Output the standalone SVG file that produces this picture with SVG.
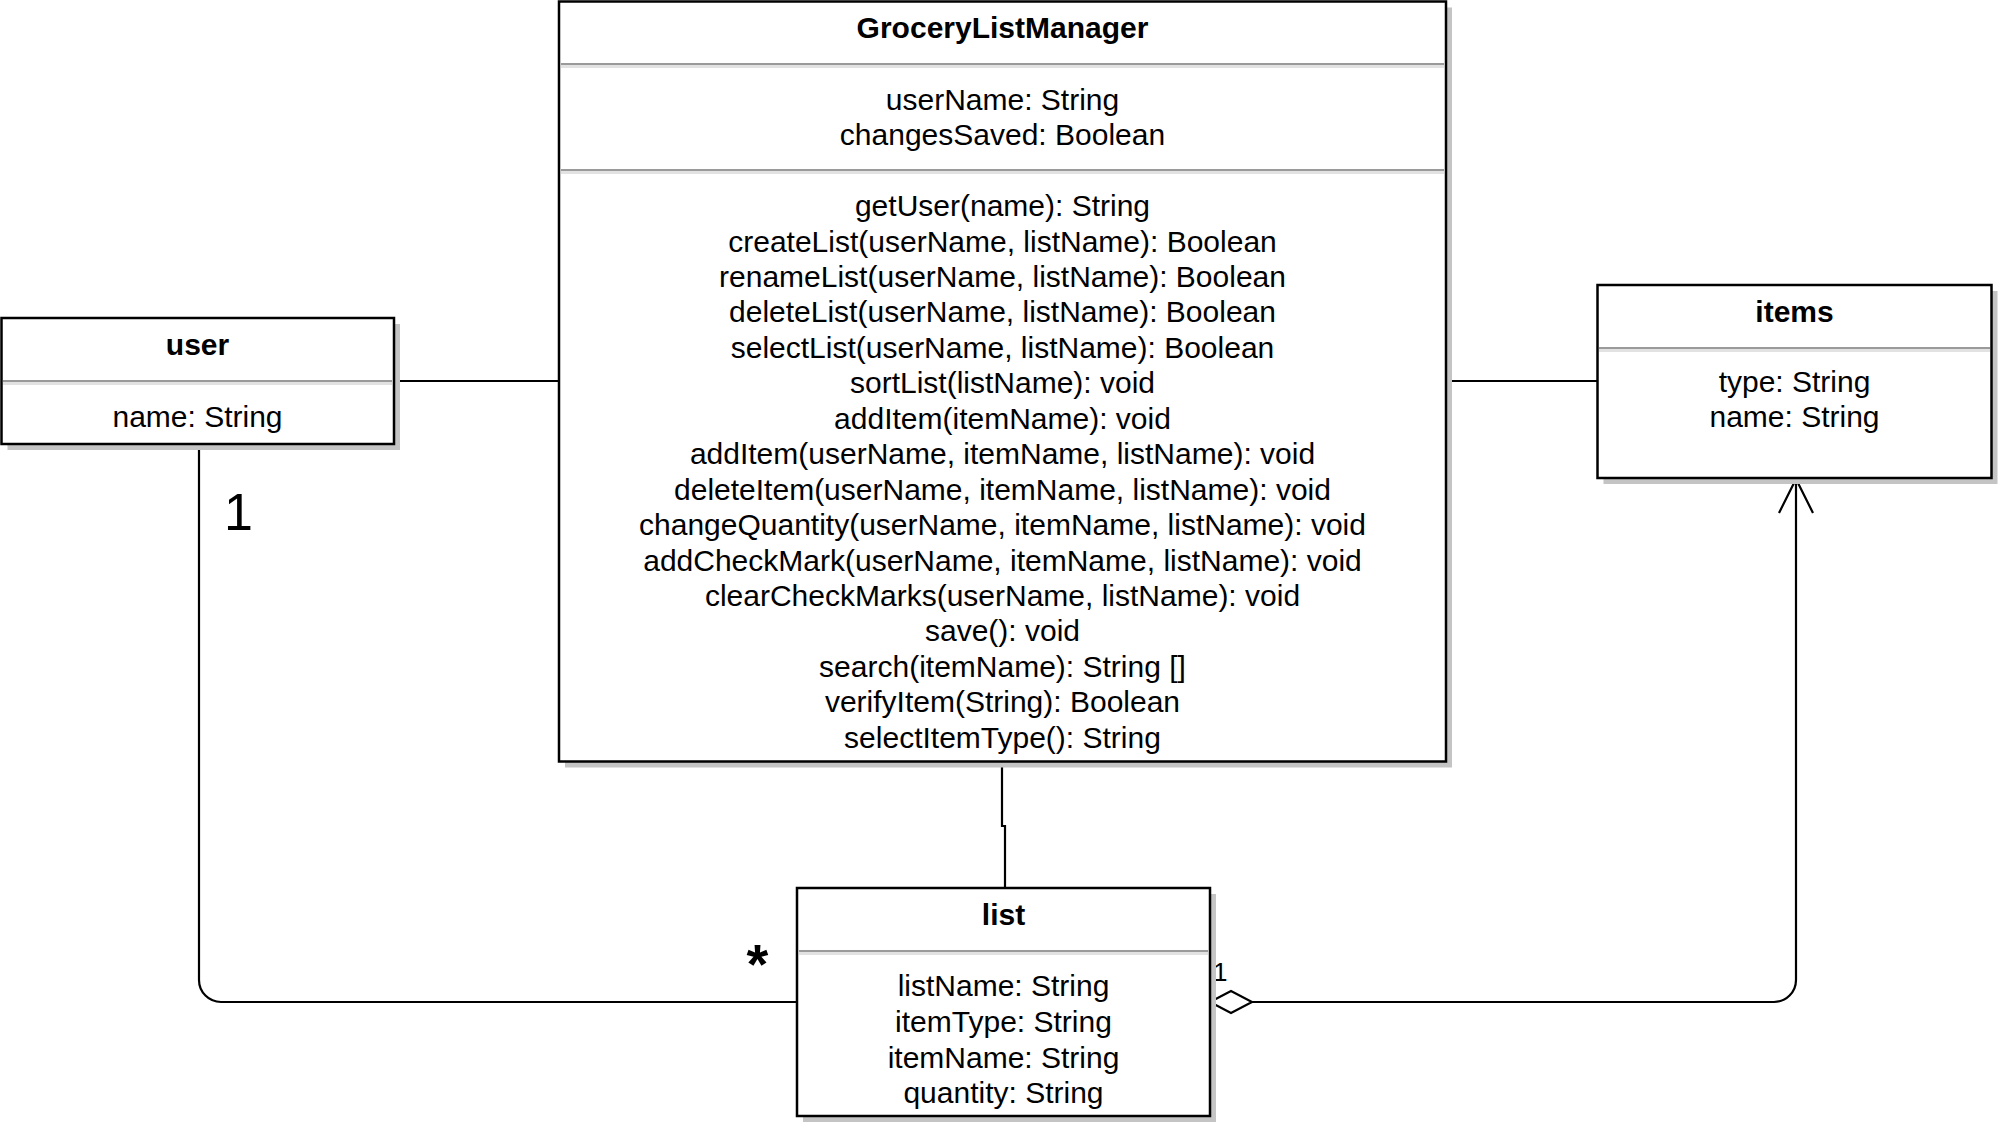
<svg xmlns="http://www.w3.org/2000/svg" width="2000" height="1128" viewBox="0 0 2000 1128">
  <style>
    text { font-family: "Liberation Sans", Arial, Helvetica, sans-serif; fill: #000; }
    .t { font-size: 30px; text-anchor: middle; }
    .b { font-size: 30px; font-weight: bold; text-anchor: middle; }
    .box { fill: #ffffff; stroke: #000; stroke-width: 2.5; }
    .shadow { fill: #c4c4c4; }
    .div { stroke: #9a9a9a; stroke-width: 2; }
    .divs { stroke: #e2e2e2; stroke-width: 3; }
    .edge { fill: none; stroke: #000; stroke-width: 2.2; }
  </style>
  <rect width="2000" height="1128" fill="#ffffff"/>

  <g id="connectors">
    <path class="edge" d="M394,381 H559"/>
    <path class="edge" d="M1446,381 H1597.5"/>
    <path class="edge" d="M1002,762 V826 H1005 V888"/>
    <path class="edge" d="M199,444 V980 A22,22 0 0 0 221,1002 H797"/>
    <path class="edge" d="M1252,1002 H1774 A22,22 0 0 0 1796,980 V479"/>
    <polygon points="1210,1002 1231,991 1252,1002 1231,1013" fill="#ffffff" stroke="#000" stroke-width="2.2"/>
    <polyline points="1779,513 1796,479 1813,513" fill="none" stroke="#000" stroke-width="2.2"/>
    <text x="224" y="530" style="font-size:52px">1</text>
    <text x="757.5" y="983" style="font-size:56px;font-weight:bold;text-anchor:middle">*</text>
    <text x="1213" y="981" style="font-size:26px">1</text>
  </g>

  <g id="user">
    <rect class="shadow" x="7.5" y="324" width="392.5" height="126"/>
    <rect class="box" x="1.5" y="318" width="392.5" height="126"/>
    <line class="divs" x1="3" y1="383.5" x2="392" y2="383.5"/>
    <line class="div" x1="3" y1="381" x2="392" y2="381"/>
    <text class="b" x="197.5" y="355">user</text>
    <text class="t" x="197.5" y="427">name: String</text>
  </g>

  <g id="GroceryListManager">
    <rect class="shadow" x="565" y="7.5" width="887" height="760"/>
    <rect class="box" x="559" y="1.5" width="887" height="760"/>
    <line class="divs" x1="561" y1="66.5" x2="1444" y2="66.5"/>
    <line class="div" x1="561" y1="64" x2="1444" y2="64"/>
    <line class="divs" x1="561" y1="172.5" x2="1444" y2="172.5"/>
    <line class="div" x1="561" y1="170" x2="1444" y2="170"/>
    <text class="b" x="1002.5" y="38">GroceryListManager</text>
    <text class="t" x="1002.5" y="110">userName: String</text>
    <text class="t" x="1002.5" y="145">changesSaved: Boolean</text>
    <text class="t" x="1002.5" y="216">getUser(name): String</text>
    <text class="t" x="1002.5" y="251.5">createList(userName, listName): Boolean</text>
    <text class="t" x="1002.5" y="287">renameList(userName, listName): Boolean</text>
    <text class="t" x="1002.5" y="322.4">deleteList(userName, listName): Boolean</text>
    <text class="t" x="1002.5" y="357.8">selectList(userName, listName): Boolean</text>
    <text class="t" x="1002.5" y="393.3">sortList(listName): void</text>
    <text class="t" x="1002.5" y="428.7">addItem(itemName): void</text>
    <text class="t" x="1002.5" y="464.2">addItem(userName, itemName, listName): void</text>
    <text class="t" x="1002.5" y="499.6">deleteItem(userName, itemName, listName): void</text>
    <text class="t" x="1002.5" y="535">changeQuantity(userName, itemName, listName): void</text>
    <text class="t" x="1002.5" y="570.5">addCheckMark(userName, itemName, listName): void</text>
    <text class="t" x="1002.5" y="606">clearCheckMarks(userName, listName): void</text>
    <text class="t" x="1002.5" y="641.4">save(): void</text>
    <text class="t" x="1002.5" y="676.8">search(itemName): String []</text>
    <text class="t" x="1002.5" y="712.3">verifyItem(String): Boolean</text>
    <text class="t" x="1002.5" y="747.7">selectItemType(): String</text>
  </g>

  <g id="items">
    <rect class="shadow" x="1603.5" y="291" width="394" height="193"/>
    <rect class="box" x="1597.5" y="285" width="394" height="193"/>
    <line class="divs" x1="1599" y1="350.5" x2="1990" y2="350.5"/>
    <line class="div" x1="1599" y1="348" x2="1990" y2="348"/>
    <text class="b" x="1794.5" y="322">items</text>
    <text class="t" x="1794.5" y="392">type: String</text>
    <text class="t" x="1794.5" y="427">name: String</text>
  </g>

  <g id="list">
    <rect class="shadow" x="803" y="894" width="413" height="228"/>
    <rect class="box" x="797" y="888" width="413" height="228"/>
    <line class="divs" x1="799" y1="953.5" x2="1208" y2="953.5"/>
    <line class="div" x1="799" y1="951" x2="1208" y2="951"/>
    <text class="b" x="1003.5" y="925">list</text>
    <text class="t" x="1003.5" y="996">listName: String</text>
    <text class="t" x="1003.5" y="1032">itemType: String</text>
    <text class="t" x="1003.5" y="1067.5">itemName: String</text>
    <text class="t" x="1003.5" y="1103">quantity: String</text>
  </g>
</svg>
